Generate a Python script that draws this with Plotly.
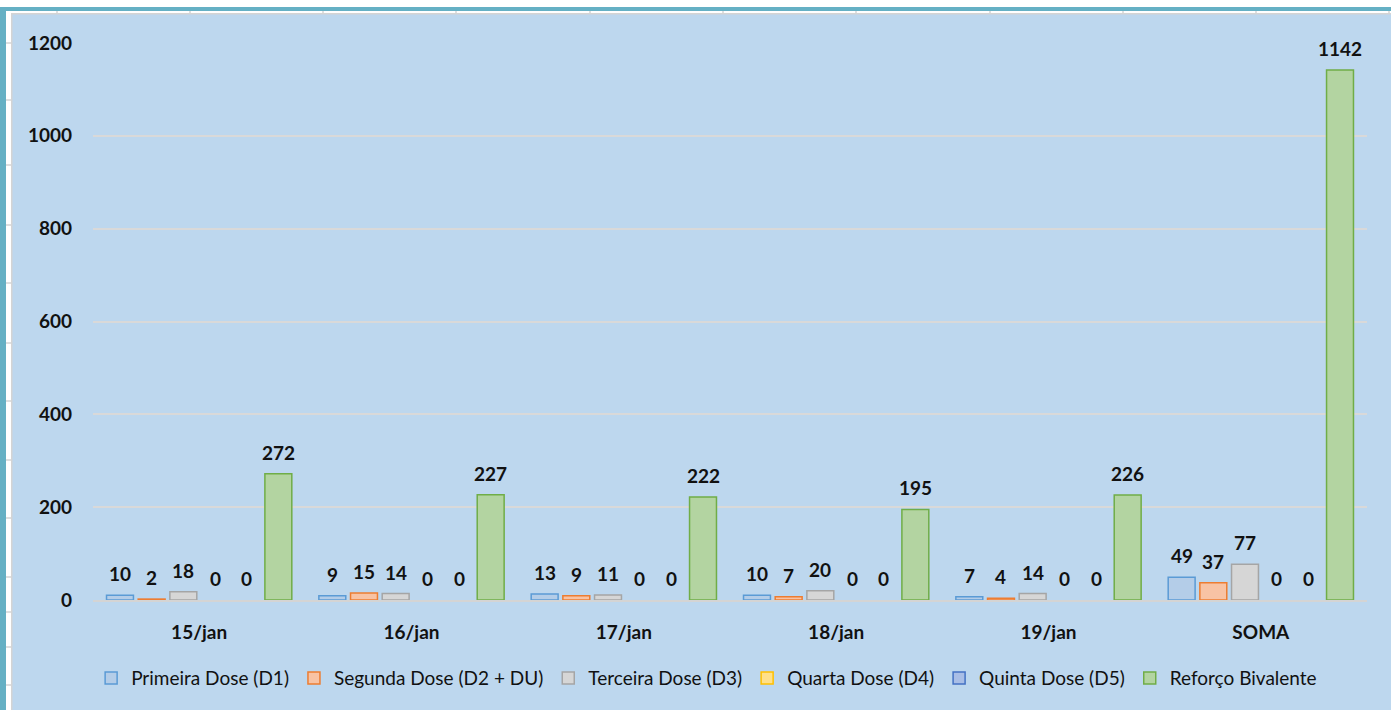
import plotly.graph_objects as go

categories = ["15/jan", "16/jan", "17/jan", "18/jan", "19/jan", "SOMA"]
primeira = [10, 9, 13, 10, 7, 49]
segunda = [2, 15, 9, 7, 4, 37]
terceira = [18, 14, 11, 20, 14, 77]
quarta = [0, 0, 0, 0, 0, 0]
quinta = [0, 0, 0, 0, 0, 0]
reforco = [272, 227, 222, 195, 226, 1142]

series = [
    ("Primeira Dose (D1)", primeira, "#B4CDE8", "#5B9BD5"),
    ("Segunda Dose (D2 + DU)", segunda, "#F8C3A4", "#ED7D31"),
    ("Terceira Dose (D3)", terceira, "#D6D6D6", "#A5A5A5"),
    ("Quarta Dose (D4)", quarta, "#FFE08A", "#FFC000"),
    ("Quinta Dose (D5)", quinta, "#A9BEE6", "#4472C4"),
    ("Reforço Bivalente", reforco, "#B3D4A1", "#70AD47"),
]

BG = "#BDD7EE"
FONT = "Lato"
FS = 19
W, H = 1391, 710
L, R, T, B = 93, 1367, 43, 600
BARGAP, GROUPGAP = 0.105, 0.15

fig = go.Figure()
n = len(series)
slot = (R - L) / len(categories) * (1 - BARGAP) / n
annotations = []
for i, (name, vals, fill, line) in enumerate(series):
    fig.add_trace(go.Bar(
        name=name, x=categories, y=vals, showlegend=False,
        marker=dict(color=fill, line=dict(color=line, width=[0 if v == 0 else 1.5 for v in vals])),
        cliponaxis=False, hoverinfo="x+y+name",
    ))
    # legend-only proxy on a hidden overlaying axis (does not take a group slot)
    fig.add_trace(go.Bar(
        name=name, x=[categories[0]], y=[None], xaxis="x2", showlegend=True,
        marker=dict(color=fill, line=dict(color=line, width=1.5)),
    ))
    for c, v in zip(categories, vals):
        annotations.append(dict(
            x=c, y=v, xref="x", yref="y", text=str(v), showarrow=False,
            yanchor="bottom", yshift=8, xshift=(i - (n - 1) / 2) * slot,
            font=dict(family=FONT, size=FS, color="#111111", weight=700),
        ))

shapes = []
frame = [
    (0, 0, 1391, 14, "white"),
    (0, 0, 12, 710, "white"),
    (0, 7, 1391, 11, "#65B0C4"),
    (0, 7, 6, 710, "#65B0C4"),
    (11, 13, 1391, 14.5, "#D4D4D4"),
    (11, 13, 12.5, 710, "#D4D4D4"),
]
for x0, y0, x1, y1, c in frame:
    shapes.append(dict(type="rect", xref="paper", yref="paper",
                       x0=(x0 - L) / (R - L), x1=(x1 - L) / (R - L),
                       y0=(B - y1) / (B - T), y1=(B - y0) / (B - T),
                       fillcolor=c, line=dict(width=0), layer="above"))
for tx in [57, 190, 323, 456, 590, 723, 856, 990, 1123, 1256, 1389]:
    xx = (tx - L) / (R - L)
    shapes.append(dict(type="line", xref="paper", yref="paper", x0=xx, x1=xx,
                       y0=(B - 14) / (B - T), y1=(B - 11) / (B - T),
                       line=dict(color="#D4D4D4", width=1.5), layer="above"))
for ty in [43, 100, 165, 225, 283, 343, 401, 460, 518, 577, 612, 647, 685]:
    yy = (B - ty) / (B - T)
    shapes.append(dict(type="line", xref="paper", yref="paper",
                       x0=(6 - L) / (R - L), x1=(12 - L) / (R - L), y0=yy, y1=yy,
                       line=dict(color="#D4D4D4", width=1.5), layer="above"))

fig.update_layout(
    width=W, height=H,
    margin=dict(l=L, r=W - R, t=T, b=H - B, autoexpand=False),
    paper_bgcolor=BG, plot_bgcolor=BG,
    barmode="group", bargap=BARGAP, bargroupgap=GROUPGAP,
    font=dict(family=FONT, size=FS, color="#111111"),
    showlegend=True,
    legend=dict(orientation="h", xref="container", yref="container",
                x=0.508, y=0.045, xanchor="center", yanchor="middle",
                font=dict(family=FONT, size=19, color="#111111"),
                itemwidth=30, tracegroupgap=0, bgcolor="rgba(0,0,0,0)"),
    shapes=shapes,
    annotations=annotations,
    xaxis=dict(showgrid=False, showline=True, linecolor="#D4D4D4", linewidth=2,
               ticks="", ticklabelstandoff=14,
               tickfont=dict(family=FONT, size=FS, color="#111111", weight=700)),
    xaxis2=dict(overlaying="x", visible=False, matches="x"),
    yaxis=dict(range=[0, 1200], dtick=200, showgrid=True, gridcolor="#D9D9D9", gridwidth=1.5,
               zeroline=False, showline=False, ticks="", ticklabelstandoff=20,
               tickfont=dict(family=FONT, size=FS, color="#111111", weight=700)),
)

fig.write_html("out.html", config={"displayModeBar": False},
               post_script="document.body.style.margin='0';document.body.style.overflow='hidden';")
